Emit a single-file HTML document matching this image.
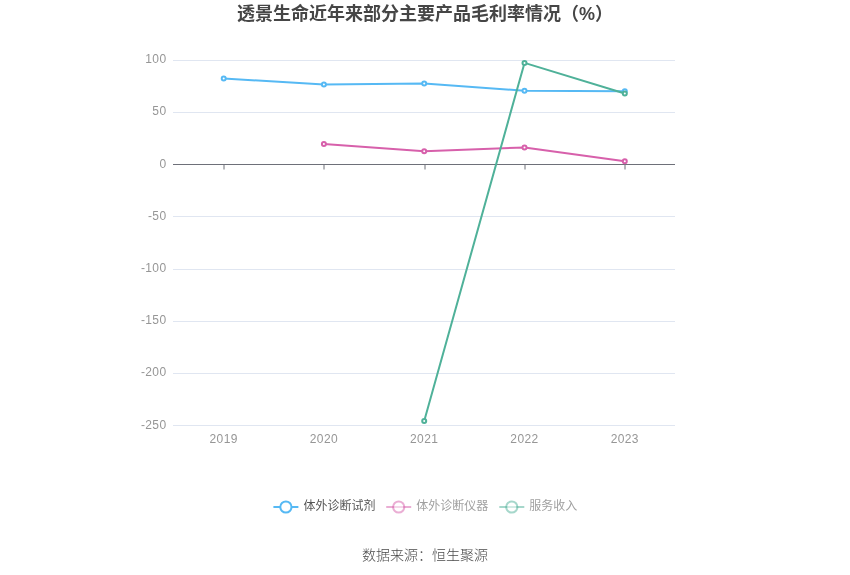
<!DOCTYPE html>
<html lang="zh-CN">
<head>
<meta charset="utf-8">
<title>透景生命近年来部分主要产品毛利率情况（%）</title>
<style>
html,body{margin:0;padding:0;background:#fff;}
body{width:850px;height:575px;overflow:hidden;}
svg{display:block;will-change:transform;}
svg text{font-family:"Liberation Sans", "Noto Sans CJK SC", sans-serif;}
.t{font-size:18px;font-weight:bold;fill:#464646;}
.al{font-size:12px;fill:#969696;letter-spacing:0.4px;}
.lg{font-size:12px;}
.src{font-size:14px;fill:#4a4a4a;font-weight:300;}
</style>
</head>
<body>
<svg width="850" height="575" viewBox="0 0 850 575">
<rect width="850" height="575" fill="#ffffff"/>
<text class="t" x="425" y="19.5" text-anchor="middle">透景生命近年来部分主要产品毛利率情况（%）</text>
<g stroke="#E0E6F1" stroke-width="1" shape-rendering="crispEdges">
<line x1="173.0" x2="675.0" y1="60.5" y2="60.5"/>
<line x1="173.0" x2="675.0" y1="112.5" y2="112.5"/>
<line x1="173.0" x2="675.0" y1="216.5" y2="216.5"/>
<line x1="173.0" x2="675.0" y1="269.5" y2="269.5"/>
<line x1="173.0" x2="675.0" y1="321.5" y2="321.5"/>
<line x1="173.0" x2="675.0" y1="373.5" y2="373.5"/>
<line x1="173.0" x2="675.0" y1="425.5" y2="425.5"/>
</g>
<g class="al" text-anchor="end">
<text x="166.5" y="63">100</text>
<text x="166.5" y="115">50</text>
<text x="166.5" y="168">0</text>
<text x="166.5" y="220">-50</text>
<text x="166.5" y="272">-100</text>
<text x="166.5" y="324">-150</text>
<text x="166.5" y="376">-200</text>
<text x="166.5" y="429">-250</text>
</g>
<g stroke="#6E7079" stroke-width="1">
<line x1="173.0" x2="675.0" y1="164.5" y2="164.5" shape-rendering="crispEdges"/>
<line x1="224" x2="224" y1="165.0" y2="169.5"/>
<line x1="324" x2="324" y1="165.0" y2="169.5"/>
<line x1="425" x2="425" y1="165.0" y2="169.5"/>
<line x1="525" x2="525" y1="165.0" y2="169.5"/>
<line x1="625" x2="625" y1="165.0" y2="169.5"/>
</g>
<g class="al" text-anchor="middle">
<text x="223.7" y="443">2019</text>
<text x="323.9" y="443">2020</text>
<text x="424.2" y="443">2021</text>
<text x="524.5" y="443">2022</text>
<text x="624.8" y="443">2023</text>
</g>
<polyline fill="none" stroke="#56b9f4" stroke-width="2" stroke-linejoin="bevel" points="223.7,78.4 323.9,84.6 424.2,83.4 524.5,90.7 624.8,91.3"/>
<circle cx="223.7" cy="78.4" r="2" fill="#fff" stroke="#56b9f4" stroke-width="2"/>
<circle cx="323.9" cy="84.6" r="2" fill="#fff" stroke="#56b9f4" stroke-width="2"/>
<circle cx="424.2" cy="83.4" r="2" fill="#fff" stroke="#56b9f4" stroke-width="2"/>
<circle cx="524.5" cy="90.7" r="2" fill="#fff" stroke="#56b9f4" stroke-width="2"/>
<circle cx="624.8" cy="91.3" r="2" fill="#fff" stroke="#56b9f4" stroke-width="2"/>
<polyline fill="none" stroke="#d760ab" stroke-width="2" stroke-linejoin="bevel" points="323.9,144.1 424.2,151.2 524.5,147.4 624.8,161.2"/>
<circle cx="323.9" cy="144.1" r="2" fill="#fff" stroke="#d760ab" stroke-width="2"/>
<circle cx="424.2" cy="151.2" r="2" fill="#fff" stroke="#d760ab" stroke-width="2"/>
<circle cx="524.5" cy="147.4" r="2" fill="#fff" stroke="#d760ab" stroke-width="2"/>
<circle cx="624.8" cy="161.2" r="2" fill="#fff" stroke="#d760ab" stroke-width="2"/>
<polyline fill="none" stroke="#4fb199" stroke-width="2" stroke-linejoin="bevel" points="424.2,421.0 524.5,62.9 624.8,93.5"/>
<circle cx="424.2" cy="421.0" r="2" fill="#fff" stroke="#4fb199" stroke-width="2"/>
<circle cx="524.5" cy="62.9" r="2" fill="#fff" stroke="#4fb199" stroke-width="2"/>
<circle cx="624.8" cy="93.5" r="2" fill="#fff" stroke="#4fb199" stroke-width="2"/>
<line x1="273.4" x2="298.4" y1="507" y2="507" stroke="#56b9f4" stroke-width="2"/>
<circle cx="285.9" cy="507" r="5.6" fill="#fff" stroke="#56b9f4" stroke-width="2"/>
<text class="lg" x="303.4" y="510.3" fill="#555">体外诊断试剂</text>
<line x1="386.2" x2="411.2" y1="507" y2="507" stroke="#d760ab" stroke-width="2" opacity="0.5"/>
<circle cx="398.7" cy="507" r="5.6" fill="#fff" stroke="#d760ab" stroke-width="2" opacity="0.5"/>
<text class="lg" x="416.2" y="510.3" fill="#a0a0a0">体外诊断仪器</text>
<line x1="499.3" x2="524.3" y1="507" y2="507" stroke="#4fb199" stroke-width="2" opacity="0.5"/>
<circle cx="511.8" cy="507" r="5.6" fill="#fff" stroke="#4fb199" stroke-width="2" opacity="0.5"/>
<text class="lg" x="529.3" y="510.3" fill="#a0a0a0">服务收入</text>
<text class="src" x="425" y="560" text-anchor="middle">数据来源：恒生聚源</text>
</svg>
</body>
</html>
